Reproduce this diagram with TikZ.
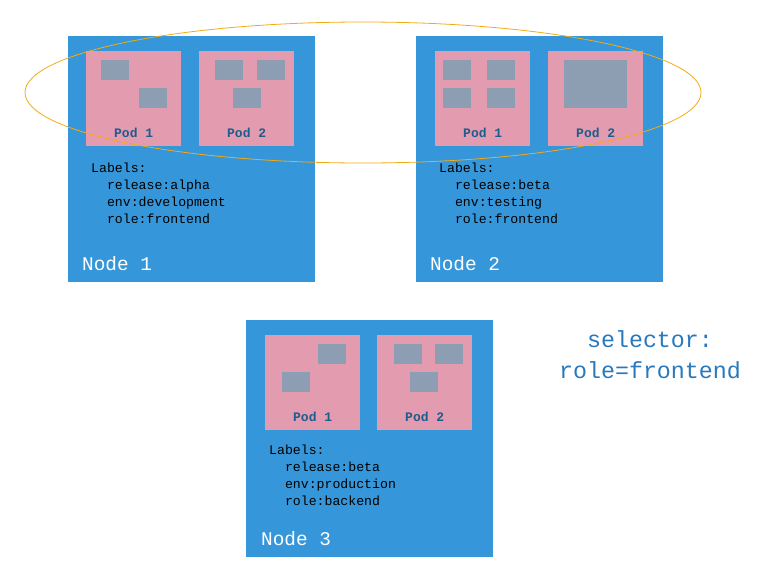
\documentclass[tikz,border=0pt]{standalone}
\usepackage{fontspec}
\setmonofont{Liberation Mono}
\usetikzlibrary{positioning}

\definecolor{nodeblue}{RGB}{54,150,218}
\definecolor{podpink}{RGB}{227,156,175}
\definecolor{ctrgray}{RGB}{141,157,178}
\definecolor{podtext}{RGB}{30,92,140}
\definecolor{selblue}{RGB}{40,120,190}
\definecolor{ringorange}{RGB}{245,170,20}

\tikzset{
  knode/.style={fill=nodeblue, anchor=north west, inner sep=0pt, minimum width=247, minimum height=246},
  pod/.style={fill=podpink, anchor=north west, inner sep=0pt, minimum size=95},
  ctr/.style={fill=ctrgray, anchor=north west, inner sep=0pt, minimum width=28, minimum height=20},
  podlbl/.style={text=podtext, inner sep=0pt, font=\ttfamily\bfseries\fontsize{13}{14}\selectfont},
  lbltxt/.style={anchor=base west, inner sep=0pt, align=left, font=\ttfamily\fontsize{13.2}{16.7}\selectfont},
  ntitle/.style={text=white, anchor=base west, inner sep=0pt, font=\ttfamily\fontsize{19.4}{22}\selectfont},
  seltxt/.style={text=selblue, inner sep=0pt, align=center, font=\ttfamily\fontsize{23.3}{31}\selectfont},
}

\begin{document}
\begin{tikzpicture}[x=1pt, y=-1pt]
\useasboundingbox (0,0) rectangle (769,581);

% ---------- Node 1 ----------
\begin{scope}[shift={(68,36)}]
  \node[knode] (n1) at (0,0) {};
  \node[pod] (n1p1) at (18,15) {};
  \node[pod] (n1p2) at (131,15) {};

  % containers
  \node[ctr] (n1c1) at (33,24) {};
  \node[ctr] (n1c2) at (71,52) {};
  \node[ctr] (n1c3) at (147,24) {};
  \node[ctr] (n1c4) at (189,24) {};
  \node[ctr] (n1c5) at (165,52) {};

  \node[podlbl] (n1p1l) at ([yshift=13.7pt]n1p1.south) {Pod 1};
  \node[podlbl] (n1p2l) at ([yshift=13.7pt]n1p2.south) {Pod 2};

  % base anchor sits on the last line
  \node[lbltxt] (n1lab) at (23,187) {Labels:\\\hspace*{1.2em}release:alpha\\\hspace*{1.2em}env:development\\\hspace*{1.2em}role:frontend};
  \node[ntitle] (n1t) at (14,234) {Node 1};
\end{scope}

% ---------- Node 2 ----------
\begin{scope}[shift={(416,36)}]
  \node[knode] (n2) at (0,0) {};
  \node[pod] (n2p1) at (19,15) {};
  \node[pod] (n2p2) at (132,15) {};

  % containers
  \node[ctr] (n2c1) at (27,24) {};
  \node[ctr] (n2c2) at (71,24) {};
  \node[ctr] (n2c3) at (27,52) {};
  \node[ctr] (n2c4) at (71,52) {};
  \node[ctr, minimum width=63, minimum height=48] (n2c5) at (148,24) {};

  \node[podlbl] (n2p1l) at ([yshift=13.7pt]n2p1.south) {Pod 1};
  \node[podlbl] (n2p2l) at ([yshift=13.7pt]n2p2.south) {Pod 2};

  \node[lbltxt] (n2lab) at (23,187) {Labels:\\\hspace*{1.2em}release:beta\\\hspace*{1.2em}env:testing\\\hspace*{1.2em}role:frontend};
  \node[ntitle] (n2t) at (14,234) {Node 2};
\end{scope}

% ---------- Node 3 ----------
\begin{scope}[shift={(246,320)}]
  \node[knode, minimum height=237] (n3) at (0,0) {};
  \node[pod] (n3p1) at (19,15) {};
  \node[pod] (n3p2) at (131,15) {};

  % containers
  \node[ctr] (n3c1) at (72,24) {};
  \node[ctr] (n3c2) at (36,52) {};
  \node[ctr] (n3c3) at (148,24) {};
  \node[ctr] (n3c4) at (189,24) {};
  \node[ctr] (n3c5) at (164,52) {};

  \node[podlbl] (n3p1l) at ([yshift=13.7pt]n3p1.south) {Pod 1};
  \node[podlbl] (n3p2l) at ([yshift=13.7pt]n3p2.south) {Pod 2};

  \node[lbltxt] (n3lab) at (23,185) {Labels:\\\hspace*{1.2em}release:beta\\\hspace*{1.2em}env:production\\\hspace*{1.2em}role:backend};
  \node[ntitle] (n3t) at (15,225) {Node 3};
\end{scope}

% ---------- Selector ----------
\node[seltxt] (sel) at (650,355) {selector:\\role=frontend};
\draw[ringorange, line width=0.8pt] (363,92.5) ellipse [x radius=338, y radius=70.5];

\end{tikzpicture}
\end{document}
